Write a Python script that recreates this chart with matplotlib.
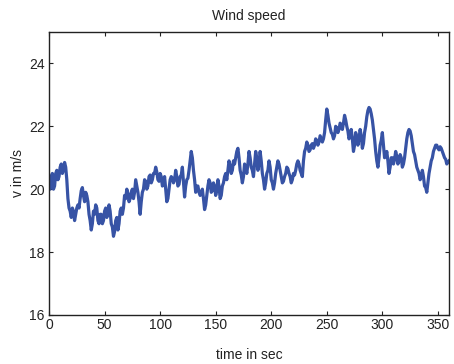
import numpy as np
import matplotlib
matplotlib.use('Agg')
import matplotlib.pyplot as plt

# wind speed samples, even seconds 0..360
t_even = np.arange(0, 361, 2)
v_even = [20.2, 20.4, 20.0, 20.5, 20.3, 20.7, 20.5, 20.85, 20.3, 19.4,
          19.1, 19.3, 19.2, 19.5, 19.7, 20.05, 19.6, 19.8, 19.2, 18.7,
          19.3, 19.5, 19.0, 19.2, 18.9, 19.3, 19.1, 19.5, 18.9, 18.5,
          19.0, 18.7, 19.3, 19.2, 19.8, 20.0, 19.6, 19.9, 19.7, 20.3,
          19.9, 19.2, 19.9, 20.3, 20.0, 20.4, 20.2, 20.5, 20.7, 20.3,
          20.5, 20.1, 20.4, 19.6, 20.0, 20.4, 20.2, 20.6, 20.1, 20.4,
          20.7, 19.75, 20.3, 20.6, 21.2, 20.6, 19.9, 20.1, 19.8, 20.0,
          19.35, 19.8, 20.3, 19.9, 20.2, 19.8, 20.3, 19.7, 20.1, 20.4,
          20.3, 20.9, 20.5, 20.9, 21.0, 21.3, 20.6, 20.2, 20.8, 20.5,
          21.2, 20.7, 20.4, 21.2, 20.6, 21.2, 20.5, 20.0, 20.5, 20.9,
          20.3, 20.0, 20.5, 20.9, 20.6, 20.2, 20.4, 20.7, 20.5, 20.2,
          20.5, 20.6, 20.9, 20.6, 20.4, 21.2, 21.5, 21.2, 21.4, 21.3,
          21.6, 21.4, 21.7, 21.5, 21.8, 22.55, 22.1, 21.8, 21.6, 22.0,
          21.8, 22.1, 21.9, 22.35, 22.0, 21.6, 21.9, 21.2, 21.8, 21.4,
          21.9, 21.3, 21.8, 22.3, 22.6, 22.4, 21.9, 21.2, 20.7, 21.4,
          21.8, 21.0, 21.2, 20.5, 21.0, 20.8, 21.2, 20.8, 21.1, 20.7,
          21.0, 21.6, 21.9, 21.7, 21.2, 20.9, 20.6, 20.3, 20.6, 20.1,
          19.9, 20.5, 20.9, 21.2, 21.4, 21.3, 21.35, 21.2, 21.0, 20.8,
          20.9]

# odd seconds 1..359 (the fast gusts between the even samples)
t_odd = np.arange(1, 360, 2)
v_odd = [20.0, 20.5, 20.1, 20.6, 20.4, 20.8, 20.6, 20.7, 19.7, 19.3,
         19.4, 19.0, 19.4, 19.4, 19.95, 19.8, 19.9, 19.6, 19.0, 18.9,
         19.2, 19.4, 18.9, 19.2, 19.0, 19.4, 19.2, 19.3, 18.8, 18.65,
         19.1, 18.9, 19.4, 19.4, 19.7, 19.85, 19.7, 20.0, 19.9, 20.1,
         19.6, 19.6, 20.0, 20.25, 20.1, 20.45, 20.3, 20.5, 20.55, 20.25,
         20.4, 20.15, 20.0, 19.7, 20.3, 20.35, 20.3, 20.4, 20.15, 20.45,
         20.2, 20.1, 20.35, 20.9, 21.0, 20.3, 20.1, 19.9, 19.85, 19.7,
         19.5, 20.1, 20.2, 19.95, 20.1, 19.95, 20.1, 19.8, 20.2, 20.5,
         20.6, 20.75, 20.6, 20.8, 21.2, 21.0, 20.45, 20.4, 20.7, 20.8,
         21.0, 20.6, 20.8, 21.0, 20.8, 20.9, 20.3, 20.2, 20.6, 20.7,
         20.2, 20.2, 20.7, 20.8, 20.4, 20.25, 20.5, 20.65, 20.4, 20.3,
         20.45, 20.8, 20.8, 20.5, 20.9, 21.3, 21.4, 21.25, 21.45, 21.4,
         21.55, 21.5, 21.6, 21.6, 22.2, 22.35, 21.95, 21.75, 21.7, 21.95,
         21.9, 22.05, 22.1, 22.2, 21.85, 21.7, 21.6, 21.4, 21.65, 21.6,
         21.7, 21.45, 22.0, 22.5, 22.55, 22.2, 21.6, 20.9, 21.0, 21.55,
         21.4, 21.05, 20.9, 20.7, 21.0, 20.95, 21.05, 20.9, 21.0, 20.8,
         21.3, 21.8, 21.85, 21.45, 21.1, 20.7, 20.5, 20.4, 20.4, 20.05,
         20.2, 20.7, 21.0, 21.3, 21.4, 21.25, 21.3, 21.1, 20.95, 20.85]

xticks = [0, 50, 100, 150, 200, 250, 300, 350]
yticks = [16, 18, 20, 22, 24]

# merge the two sample sets into one time series
t = np.concatenate([t_even, t_odd])
v = np.concatenate([v_even, v_odd])
order = np.argsort(t)
t = t[order]
v = v[order]

plt.rcParams['font.family'] = ['Liberation Sans', 'DejaVu Sans']
plt.rcParams['font.size'] = 10

fig = plt.figure(figsize=(4.54, 3.64), dpi=100)
ax = fig.add_axes([0.108, 0.135, 0.881, 0.777])
ax.plot(t, v, color='#3753a5', linewidth=2.3)

ax.set_xlim(0, 360)
ax.set_ylim(16, 25)
ax.set_xticks(xticks)
ax.set_yticks(yticks)
ax.tick_params(axis='both', direction='in', top=True, right=True, length=3,
               width=0.8, labelsize=10, colors='#222222')
ax.tick_params(axis='x', pad=2)
ax.tick_params(axis='y', pad=3)
for s in ax.spines.values():
    s.set_linewidth(1.0)
    s.set_color('#222222')

ax.set_title('Wind speed', fontsize=10, pad=9, color='#222222')
ax.set_xlabel('time in sec', fontsize=10, labelpad=12, color='#222222')
ax.set_ylabel('v in m/s', fontsize=10, labelpad=3, color='#222222')

fig.savefig('out.png', dpi=100)
